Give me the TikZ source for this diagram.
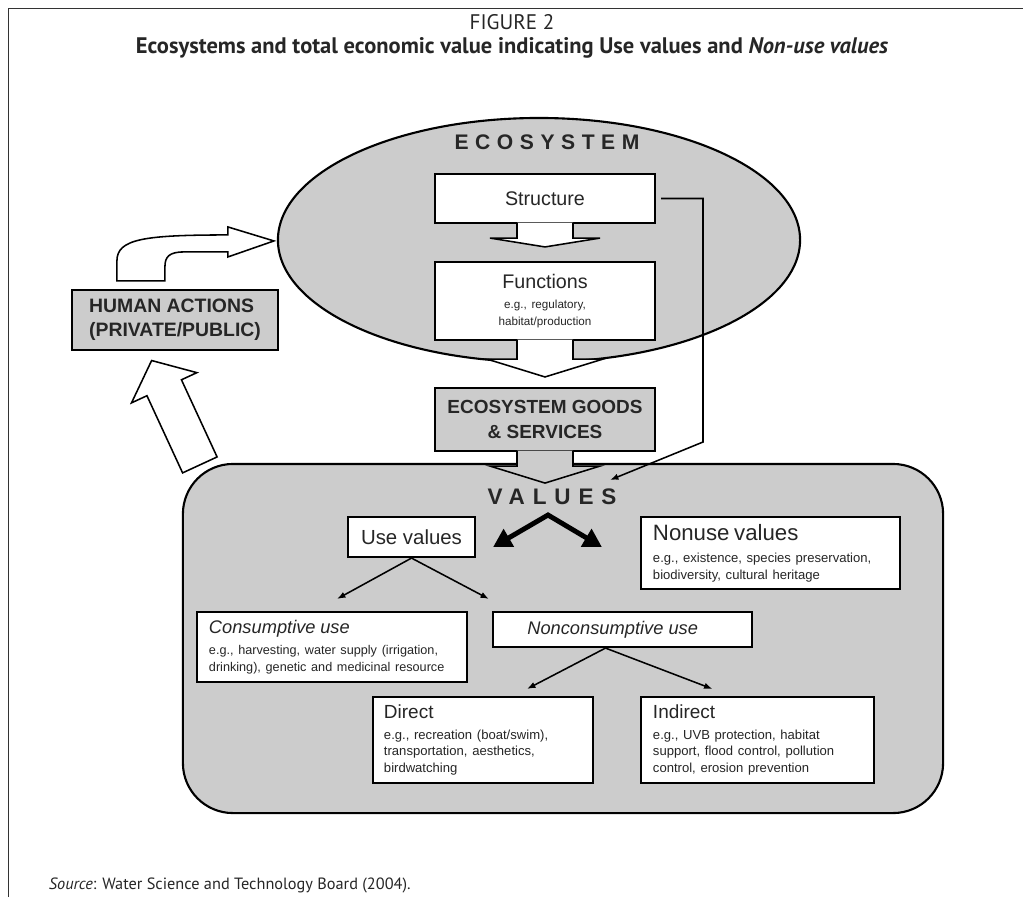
\documentclass[tikz,border=0pt]{standalone}
\usepackage{fontspec}
\setmainfont{PT Sans}
\newfontfamily\arialfont{Liberation Sans}
\usepackage{tikz}
\usetikzlibrary{shapes, arrows.meta, calc, positioning}

\begin{document}
\begin{tikzpicture}[x=0.025cm, y=-0.025cm,
    every node/.style={font=\arialfont, text=black!85},
    box/.style={draw=black, line width=1.5pt, fill=white, inner sep=0pt},
    greybox/.style={box, fill=black!20},
    textbox/.style={box, align=left, inner xsep=0.3cm},
    blockarr/.style={draw=black, line width=1.1pt, fill=white},
    link/.style={draw=black, line width=1.1pt, -{Latex[length=6pt,width=4.5pt]}},
    fatarr/.style={draw=black, line width=3.5pt, {Triangle[length=13pt,width=14pt]}-{Triangle[length=13pt,width=14pt]}}]

    \useasboundingbox (0,0) rectangle (1023,897);

    % frame
    \draw[black!80, line width=0.7pt] (8,897) -- (8,8) -- (1023,8);

    % caption
    \node[font=\fontsize{15}{17}\selectfont] (fignum) at (512,22) {FIGURE 2};
    \node[font=\bfseries\fontsize{16}{18}\selectfont] (title) at (512,48) {Ecosystems and total economic value indicating Use values and \textit{Non-use values}};
    \node[font=\fontsize{11.6}{14}\selectfont, anchor=west] (source) at (44,885) {\textit{Source}: Water Science and Technology Board (2004).};

    % values
    \node[draw=black, line width=1.5pt, fill=black!20, rounded corners=1.25cm, minimum width=19cm, minimum height=8.725cm, inner sep=0pt] (valbox) at (563,638.5) {};
    \node[font=\arialfont\bfseries\fontsize{16}{18}\selectfont\addfontfeature{LetterSpace=35}, inner sep=0pt] (valtxt) at (552,497) {VALUES};

    % ecosystem
    \node[ellipse, draw=black, line width=1.5pt, fill=black!20, minimum width=13.05cm, minimum height=6.1cm, inner sep=0pt] (ecosys) at (539,240) {};
    \node[font=\arialfont\bfseries\fontsize{15}{18}\selectfont\addfontfeature{LetterSpace=31}, inner sep=0pt] (ecotxt) at (547,142) {ECOSYSTEM};

    \node[box, minimum width=5.5cm, minimum height=1.225cm, font=\arialfont\fontsize{14}{16}\selectfont] (struct) at (545,198.5) {Structure};
    \node[box, text width=5.5cm, minimum height=1.95cm, align=center] (func) at (545,301) {\fontsize{14}{16}\selectfont Functions\\[3pt]\fontsize{8.3}{10.7}\selectfont e.g., regulatory,\\habitat/production};
    \node[greybox, minimum width=5.5cm, minimum height=1.575cm, align=center, font=\arialfont\bfseries\fontsize{13.5}{17.5}\selectfont] (goods) at (545,419.5) {ECOSYSTEM GOODS\\\& SERVICES};

    % human actions
    \node[greybox, minimum width=5.15cm, minimum height=1.5cm, align=left, font=\arialfont\bfseries\fontsize{13.8}{17}\selectfont] (human) at (175,320) {HUMAN ACTIONS\\(PRIVATE/PUBLIC)};

    % block arrows down the middle
    \draw[blockarr] ($(struct.south)+(-28,-1.5)$) -- ++(0,15.5) -- ++(-27,0) -- ($(func.north)+(0,-14)$) -- ($(struct.south)+(55,14)$) -- ++(-27,0) -- ++(0,-15.5);
    \draw[blockarr] ($(func.south)+(-28,-1.5)$) -- ++(0,19.5) -- ++(-30,0) -- ($(goods.north)+(0,-10)$) -- ($(func.south)+(58,18)$) -- ++(-30,0) -- ++(0,-19.5);
    \draw[blockarr, fill=black!20] ($(goods.south)+(-28,-1.5)$) -- ++(0,15.5) -- ++(-27,0) -- ($(goods.south)+(0,31)$) -- ($(goods.south)+(55,14)$) -- ++(-27,0) -- ++(0,-15.5);

    % structure straight to values
    \coordinate (sidebend) at (703,442);
    \coordinate (valin) at (610,480);
    \draw[link] ($(struct.east)+(5,0)$) -| (sidebend) -- (valin);

    % human actions on the ecosystem
    \begin{scope}[shift={(human.north west)}]
        \draw[blockarr] (46,-8) -- (46,-28) .. controls (46,-50) and (73,-54) .. (157,-54) -- (157,-62) -- (203,-48) -- (157,-32) -- (157,-37) -- (113,-37) .. controls (98,-37) and (94,-32) .. (94,-22) -- (94,-8) -- cycle;
    \end{scope}

    % values back to human actions
    \begin{scope}[shift={($(valbox.north west)+(18,2)$)}, rotate=114.8]
        \draw[blockarr] (0,-19) -- (85,-19) -- (85,-36) -- (115,0) -- (85,36) -- (85,19) -- (0,19) -- cycle;
    \end{scope}

    % use and nonuse
    \node[box, minimum width=3.175cm, minimum height=1cm, font=\arialfont\fontsize{14.5}{16}\selectfont] (usev) at (411.5,537) {Use values};
    \node[textbox, text width=5.875cm, minimum height=1.8cm] (nonuse) at (770.5,553) {\fontsize{15.8}{17}\selectfont Nonuse values\\[4pt]\fontsize{9.3}{11.5}\selectfont e.g., existence, species preservation,\\biodiversity, cultural heritage};
    \coordinate (fork) at (548,515);
    \draw[fatarr] ($(usev.east)+(17,10)$) -- (fork) -- ($(nonuse.west)+(-38,-6)$);

    \node[textbox, text width=6.15cm, minimum height=1.75cm] (consum) at (332,647) {\fontsize{13}{15}\selectfont\itshape Consumptive use\\[3.5pt]\upshape\fontsize{9}{11.5}\selectfont e.g., harvesting, water supply (irrigation,\\drinking), genetic and medicinal resource};
    \node[box, minimum width=6.475cm, minimum height=0.875cm, font=\arialfont\itshape\fontsize{13}{15}\selectfont] (noncons) at (622.5,629.5) {Nonconsumptive use\hspace*{14pt}};
    \draw[link] (usev.south) -- ($(consum.north)+(5,-12)$);
    \draw[link] (usev.south) -- ($(noncons.north west)+(-3,-12)$);

    % direct and indirect
    \node[textbox, inner xsep=0.275cm, text width=4.95cm, minimum height=2.15cm] (direct) at (483,740) {\fontsize{13.5}{15}\selectfont Direct\\[3pt]\fontsize{9.3}{11.5}\selectfont e.g., recreation (boat/swim),\\transportation, aesthetics,\\birdwatching};
    \node[textbox, text width=5.225cm, minimum height=2.15cm] (indirect) at (757.5,740) {\fontsize{13.5}{15}\selectfont Indirect\\[3pt]\fontsize{9.3}{11.5}\selectfont e.g., UVB protection, habitat\\support, flood control, pollution\\control, erosion prevention};
    \draw[link] ($(noncons.south)+(-17,0)$) -- ($(direct.north)+(44,-7)$);
    \draw[link] ($(noncons.south)+(-17,0)$) -- ($(indirect.north)+(-45,-7)$);

\end{tikzpicture}
\end{document}
